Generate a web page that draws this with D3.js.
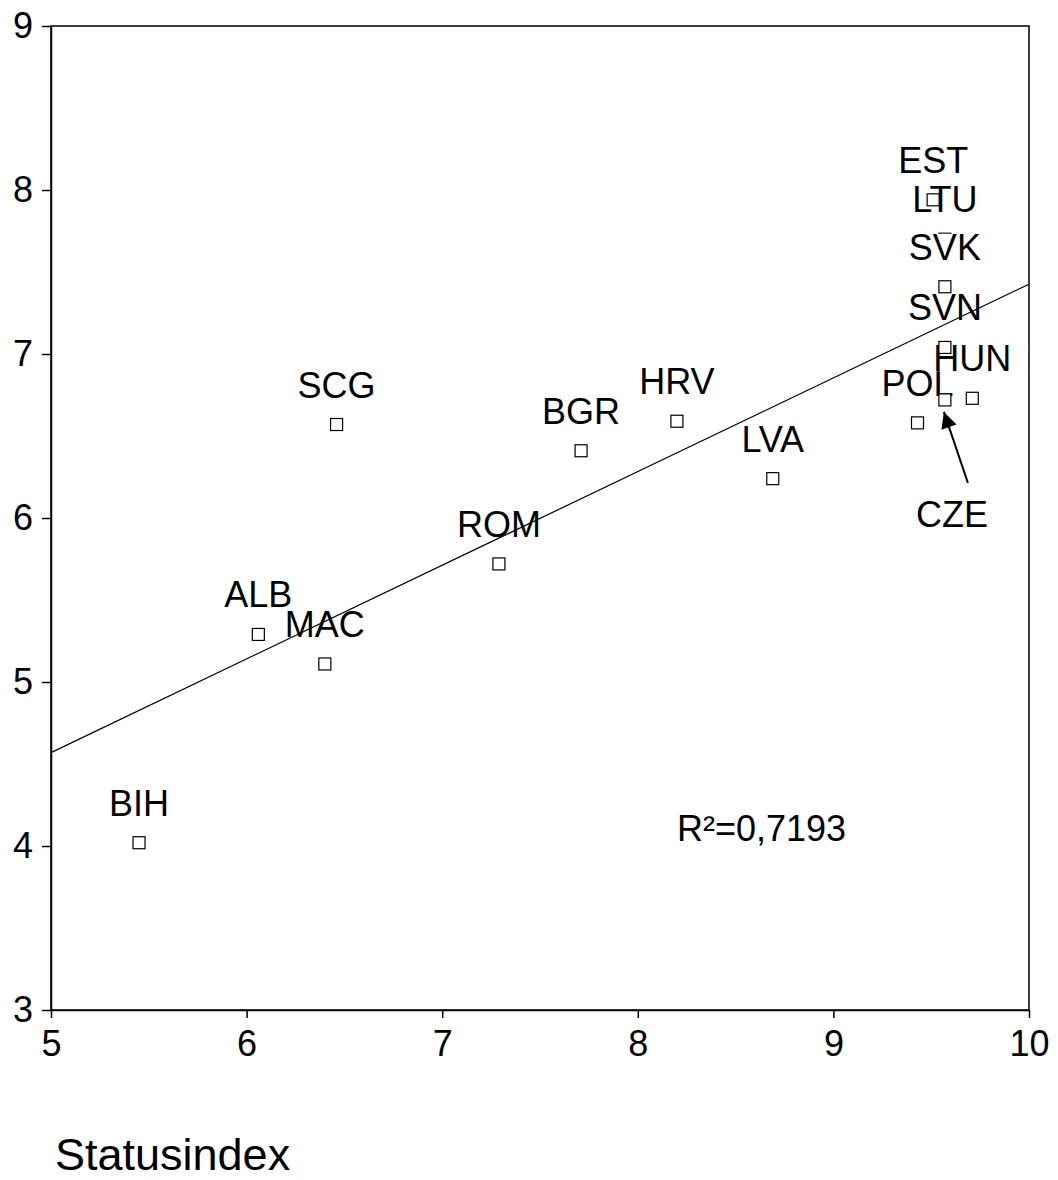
<!DOCTYPE html>
<html>
<head>
<meta charset="utf-8">
<script src="https://cdn.jsdelivr.net/npm/d3@7"></script>
<style>
  body { margin: 0; background: #fff; }
  svg text { font-family: "Liberation Sans", Arial, sans-serif; fill: #000; }
</style>
</head>
<body>
<script>
// country codes (drawing order matters for the overlapping labels at the top right)
var codes = ["BIH", "ALB", "MAC", "SCG", "ROM", "BGR", "HRV", "LVA", "POL", "CZE", "HUN", "SVN", "LTU", "SVK", "EST"];
// Statusindex (x)
var statusIndex = [5.45, 6.06, 6.40, 6.46, 7.29, 7.71, 8.20, 8.69, 9.43, 9.57, 9.71, 9.57, 9.57, 9.57, 9.51];
// y values
var yValues = [4.02, 5.29, 5.11, 6.57, 5.72, 6.41, 6.59, 6.24, 6.58, 6.72, 6.73, 7.04, 7.70, 7.41, 7.94];
var xTicks = [5, 6, 7, 8, 9, 10];
var yTicks = [3, 4, 5, 6, 7, 8, 9];
var rSquaredLabel = "R²=0,7193";
var xTitle = "Statusindex";
var arrowCode = "CZE";

var width = 1058,
    height = 1180,
    fs = 36;

var svg = d3.select("body")
    .append("svg")
    .attr("width", width)
    .attr("height", height);

var x = d3.scaleLinear().domain([5, 10]).range([51, 1029]);
var y = d3.scaleLinear().domain([3, 9]).range([1010, 26]);

var data = codes.map(function(c, i){
    return {code: c, x: statusIndex[i], y: yValues[i]};
});

//frame
svg.append("rect")
    .attr("x", x(5)).attr("y", y(9))
    .attr("width", x(10) - x(5)).attr("height", y(3) - y(9))
    .attr("fill", "none")
    .attr("stroke", "#000")
    .attr("stroke-width", 1.5);

//axes
var yAxis = svg.append("g")
    .attr("transform", "translate(" + x(5) + ",0)")
    .call(d3.axisLeft(y).tickValues(yTicks).tickFormat(d3.format("d"))
        .tickSize(9).tickSizeOuter(0).tickPadding(9));
var xAxis = svg.append("g")
    .attr("transform", "translate(0," + y(3) + ")")
    .call(d3.axisBottom(x).tickValues(xTicks).tickFormat(d3.format("d"))
        .tickSize(8).tickSizeOuter(0).tickPadding(12));

[xAxis, yAxis].forEach(function(a){
    a.select(".domain").attr("stroke", "#000").attr("stroke-width", 1.5);
    a.selectAll(".tick line").attr("stroke", "#000").attr("stroke-width", 1.5);
    a.selectAll(".tick text")
        .style("font-family", "'Liberation Sans', Arial, sans-serif")
        .style("font-size", fs + "px")
        .attr("fill", "#000");
});

//points and labels, drawn point by point
var capH = 0.72 * fs;
data.forEach(function(d){
    var px = x(d.x), py = y(d.y);
    svg.append("rect")
        .attr("class", "point")
        .attr("x", px - 6).attr("y", py - 6)
        .attr("width", 12).attr("height", 12)
        .attr("fill", "#fff")
        .attr("stroke", "#000")
        .attr("stroke-width", 1.2);

    if (d.code === arrowCode) return;

    var g = svg.append("g").attr("class", "label");
    var bg = g.append("rect").attr("fill", "#fff");
    var t = g.append("text")
        .attr("x", px)
        .attr("y", py - 27)
        .attr("text-anchor", "middle")
        .style("font-size", fs + "px")
        .text(d.code);
    var w = t.node().getComputedTextLength();
    bg.attr("x", px - w / 2).attr("y", py - 27 - capH)
        .attr("width", w).attr("height", capH);
});

//CZE annotation with arrow
var cze = data.filter(function(d){ return d.code === arrowCode; })[0];
var cx = x(cze.x), cy = y(cze.y);
svg.append("defs").append("marker")
    .attr("id", "arrowhead")
    .attr("viewBox", "0 0 10 10")
    .attr("refX", 10).attr("refY", 5)
    .attr("markerUnits", "userSpaceOnUse")
    .attr("markerWidth", 22).attr("markerHeight", 16)
    .attr("orient", "auto")
    .append("path")
    .attr("d", "M0,0L10,5L0,10Z")
    .attr("fill", "#000");
svg.append("line")
    .attr("x1", cx + 23).attr("y1", cy + 83)
    .attr("x2", cx - 1).attr("y2", cy + 12)
    .attr("stroke", "#000")
    .attr("stroke-width", 2)
    .attr("marker-end", "url(#arrowhead)");
svg.append("text")
    .attr("x", cx + 7)
    .attr("y", cy + 127)
    .attr("text-anchor", "middle")
    .style("font-size", fs + "px")
    .text(arrowCode);

//least squares fit line
var mx = d3.mean(data, function(d){ return d.x; }),
    my = d3.mean(data, function(d){ return d.y; });
var sxy = d3.sum(data, function(d){ return (d.x - mx) * (d.y - my); }),
    sxx = d3.sum(data, function(d){ return (d.x - mx) * (d.x - mx); });
var slope = sxy / sxx,
    intercept = my - slope * mx;
svg.append("line")
    .attr("x1", x(5)).attr("y1", y(intercept + slope * 5))
    .attr("x2", x(10)).attr("y2", y(intercept + slope * 10))
    .attr("stroke", "#000")
    .attr("stroke-width", 1.2);

//R squared
svg.append("text")
    .attr("x", 677)
    .attr("y", 841)
    .style("font-size", fs + "px")
    .text(rSquaredLabel);

//axis title
svg.append("text")
    .attr("x", 55)
    .attr("y", 1170)
    .style("font-size", "45px")
    .text(xTitle);
</script>
</body>
</html>
